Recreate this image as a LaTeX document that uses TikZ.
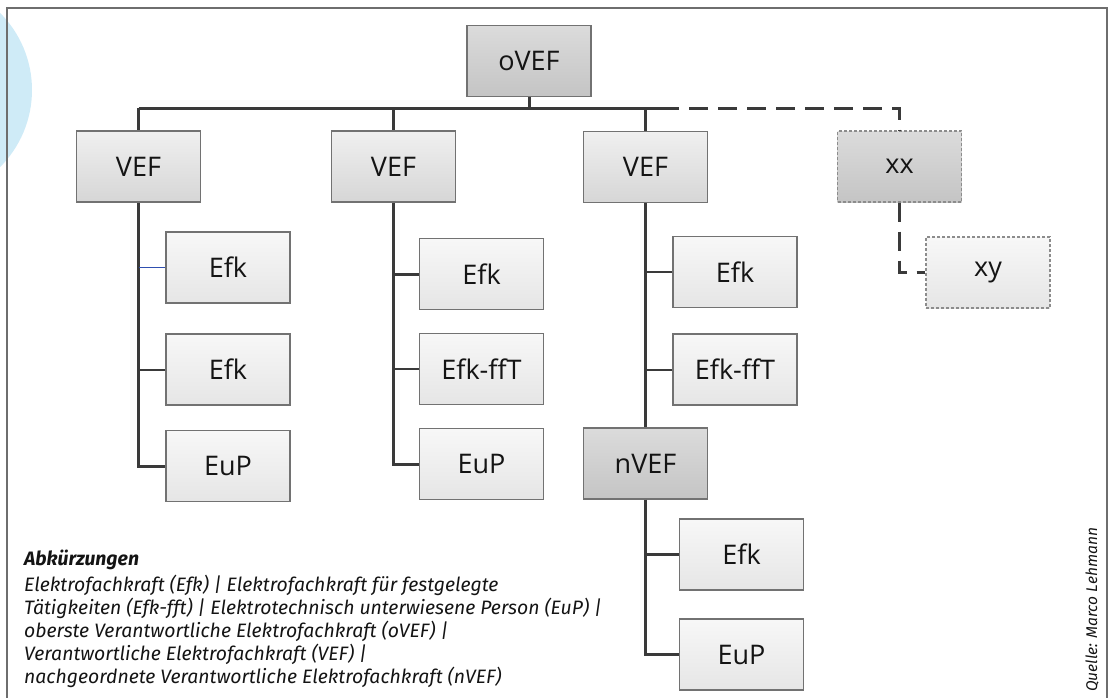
\documentclass[tikz,border=0pt]{standalone}
\usepackage{fontspec}
\setmainfont{Open Sans}
\newfontfamily\boxfont{Open Sans}
\newfontfamily\capfont{Fira Sans}
\newcommand\capsetup{\capfont\itshape\fontsize{19.4}{23}\selectfont}
\definecolor{linecol}{HTML}{3A3A3A}
\definecolor{framecol}{HTML}{6E6E6E}
\definecolor{circcol}{HTML}{CFEBF7}
\definecolor{boxborder}{HTML}{727272}
\definecolor{dashborder}{HTML}{8C8C8C}
\definecolor{branchblue}{HTML}{2F4FB0}
\definecolor{txtcol}{HTML}{141414}
\tikzset{
  box/.style={draw=boxborder, line width=1.2pt, minimum width=124pt, minimum height=71pt,
    inner sep=0pt, text=txtcol, font=\boxfont\fontsize{27}{30}\selectfont},
  lightbox/.style={box, top color=white!97!black, bottom color=white!90!black},
  midbox/.style={box, top color=white!94!black, bottom color=white!84!black},
  darkbox/.style={box, top color=white!86!black, bottom color=white!77!black},
  dashbox/.style={draw=dashborder, dash pattern=on 3pt off 2pt, line width=1.2pt},
  trunk/.style={draw=linecol, line width=3pt},
  branch/.style={draw=linecol, line width=2pt},
  dashline/.style={draw=linecol, line width=3pt, dash pattern=on 19pt off 10pt},
  captxt/.style={text=txtcol, inner sep=0pt, font=\capsetup}
}
\begin{document}
\begin{tikzpicture}[x=1pt,y=-1pt]
\useasboundingbox (0,0) rectangle (1112,697);
\begin{scope}
  \clip (0,0) rectangle (1112,697);
  \fill[circcol] (-77,90) circle (109pt);
\end{scope}
\draw[framecol, line width=1.5pt] (7,705) -- (7,8) -- (1107,8) -- (1107,705);

% nodes
\node[darkbox] (oVEF) at (529,61) {oVEF};
\node[midbox] (VEF1) at (138.5,166.5) {VEF};
\node[midbox] (VEF2) at (393.5,166.5) {VEF};
\node[midbox] (VEF3) at (645.5,167) {VEF};
\node[darkbox, dashbox] (xx) at (899.5,166.5) {xx};
\node[lightbox, dashbox] (xy) at (988,272.5) {xy};

\node[lightbox] (E1a) at (228,267.5) {Efk};
\node[lightbox] (E1b) at (228,369.5) {Efk};
\node[lightbox] (P1) at (228,466) {EuP};

\node[lightbox] (E2a) at (481.5,274) {Efk};
\node[lightbox] (E2b) at (481.5,369) {Efk-ffT};
\node[lightbox] (P2) at (481.5,464) {EuP};

\node[lightbox] (E3a) at (735,272) {Efk};
\node[lightbox] (E3b) at (735,369.5) {Efk-ffT};
\node[darkbox] (nVEF) at (645.5,463.5) {nVEF};

\node[lightbox] (E4a) at (741.5,554.5) {Efk};
\node[lightbox] (P4) at (741.5,654.5) {EuP};

% bus
\coordinate (busL) at (VEF1.north |- 0,108);
\coordinate (busR) at (660,108);
\coordinate (busD) at (xx.north |- 0,108);
\draw[trunk] (busL) -- (busR);
\draw[trunk] (oVEF.south) -- (oVEF.south |- busL);
\draw[trunk] (busL) -- (VEF1.north);
\draw[trunk] (VEF2.north |- busL) -- (VEF2.north);
\draw[trunk] (VEF3.north |- busL) -- (VEF3.north);
\draw[dashline] (busR) -- (busD) -- (xx.north);
\draw[dashline] (xx.south) |- (xy.west);

% column 1
\draw[trunk] (VEF1.south) |- (P1.west);
\draw[draw=branchblue, line width=1.3pt] (E1a.west) -- (E1a.west -| VEF1.south);
\draw[branch] (E1b.west) -- (E1b.west -| VEF1.south);
% column 2
\draw[trunk] (VEF2.south) |- (P2.west);
\draw[trunk] (E2a.west) -- (E2a.west -| VEF2.south);
\draw[branch] (E2b.west) -- (E2b.west -| VEF2.south);
% column 3
\draw[trunk] (VEF3.south) -- (nVEF.north);
\draw[branch] (E3a.west) -- (E3a.west -| VEF3.south);
\draw[branch] (E3b.west) -- (E3b.west -| VEF3.south);
\draw[trunk] (nVEF.south) |- (P4.west);
\draw[trunk] (E4a.west) -- (E4a.west -| nVEF.south);

% caption
\node[captxt, anchor=west, font=\capfont\bfseries\itshape\fontsize{19.4}{23}\selectfont] (abk) at (24,560) {Abkürzungen};
\node[captxt, anchor=north west, align=left] (legend) at (24,575) {Elektrofachkraft (Efk) | Elektrofachkraft für festgelegte\\
T\"atigkeiten (Efk-fft) | Elektrotechnisch unterwiesene Person (EuP) |\\
oberste Verantwortliche Elektrofachkraft (oVEF) |\\
Verantwortliche Elektrofachkraft (VEF) |\\
nachgeordnete Verantwortliche Elektrofachkraft (nVEF)};
\node[captxt, rotate=90, anchor=west, font=\capfont\itshape\fontsize{15.5}{17}\selectfont] (quelle) at (1092,692) {Quelle: Marco Lehmann};
\end{tikzpicture}
\end{document}
